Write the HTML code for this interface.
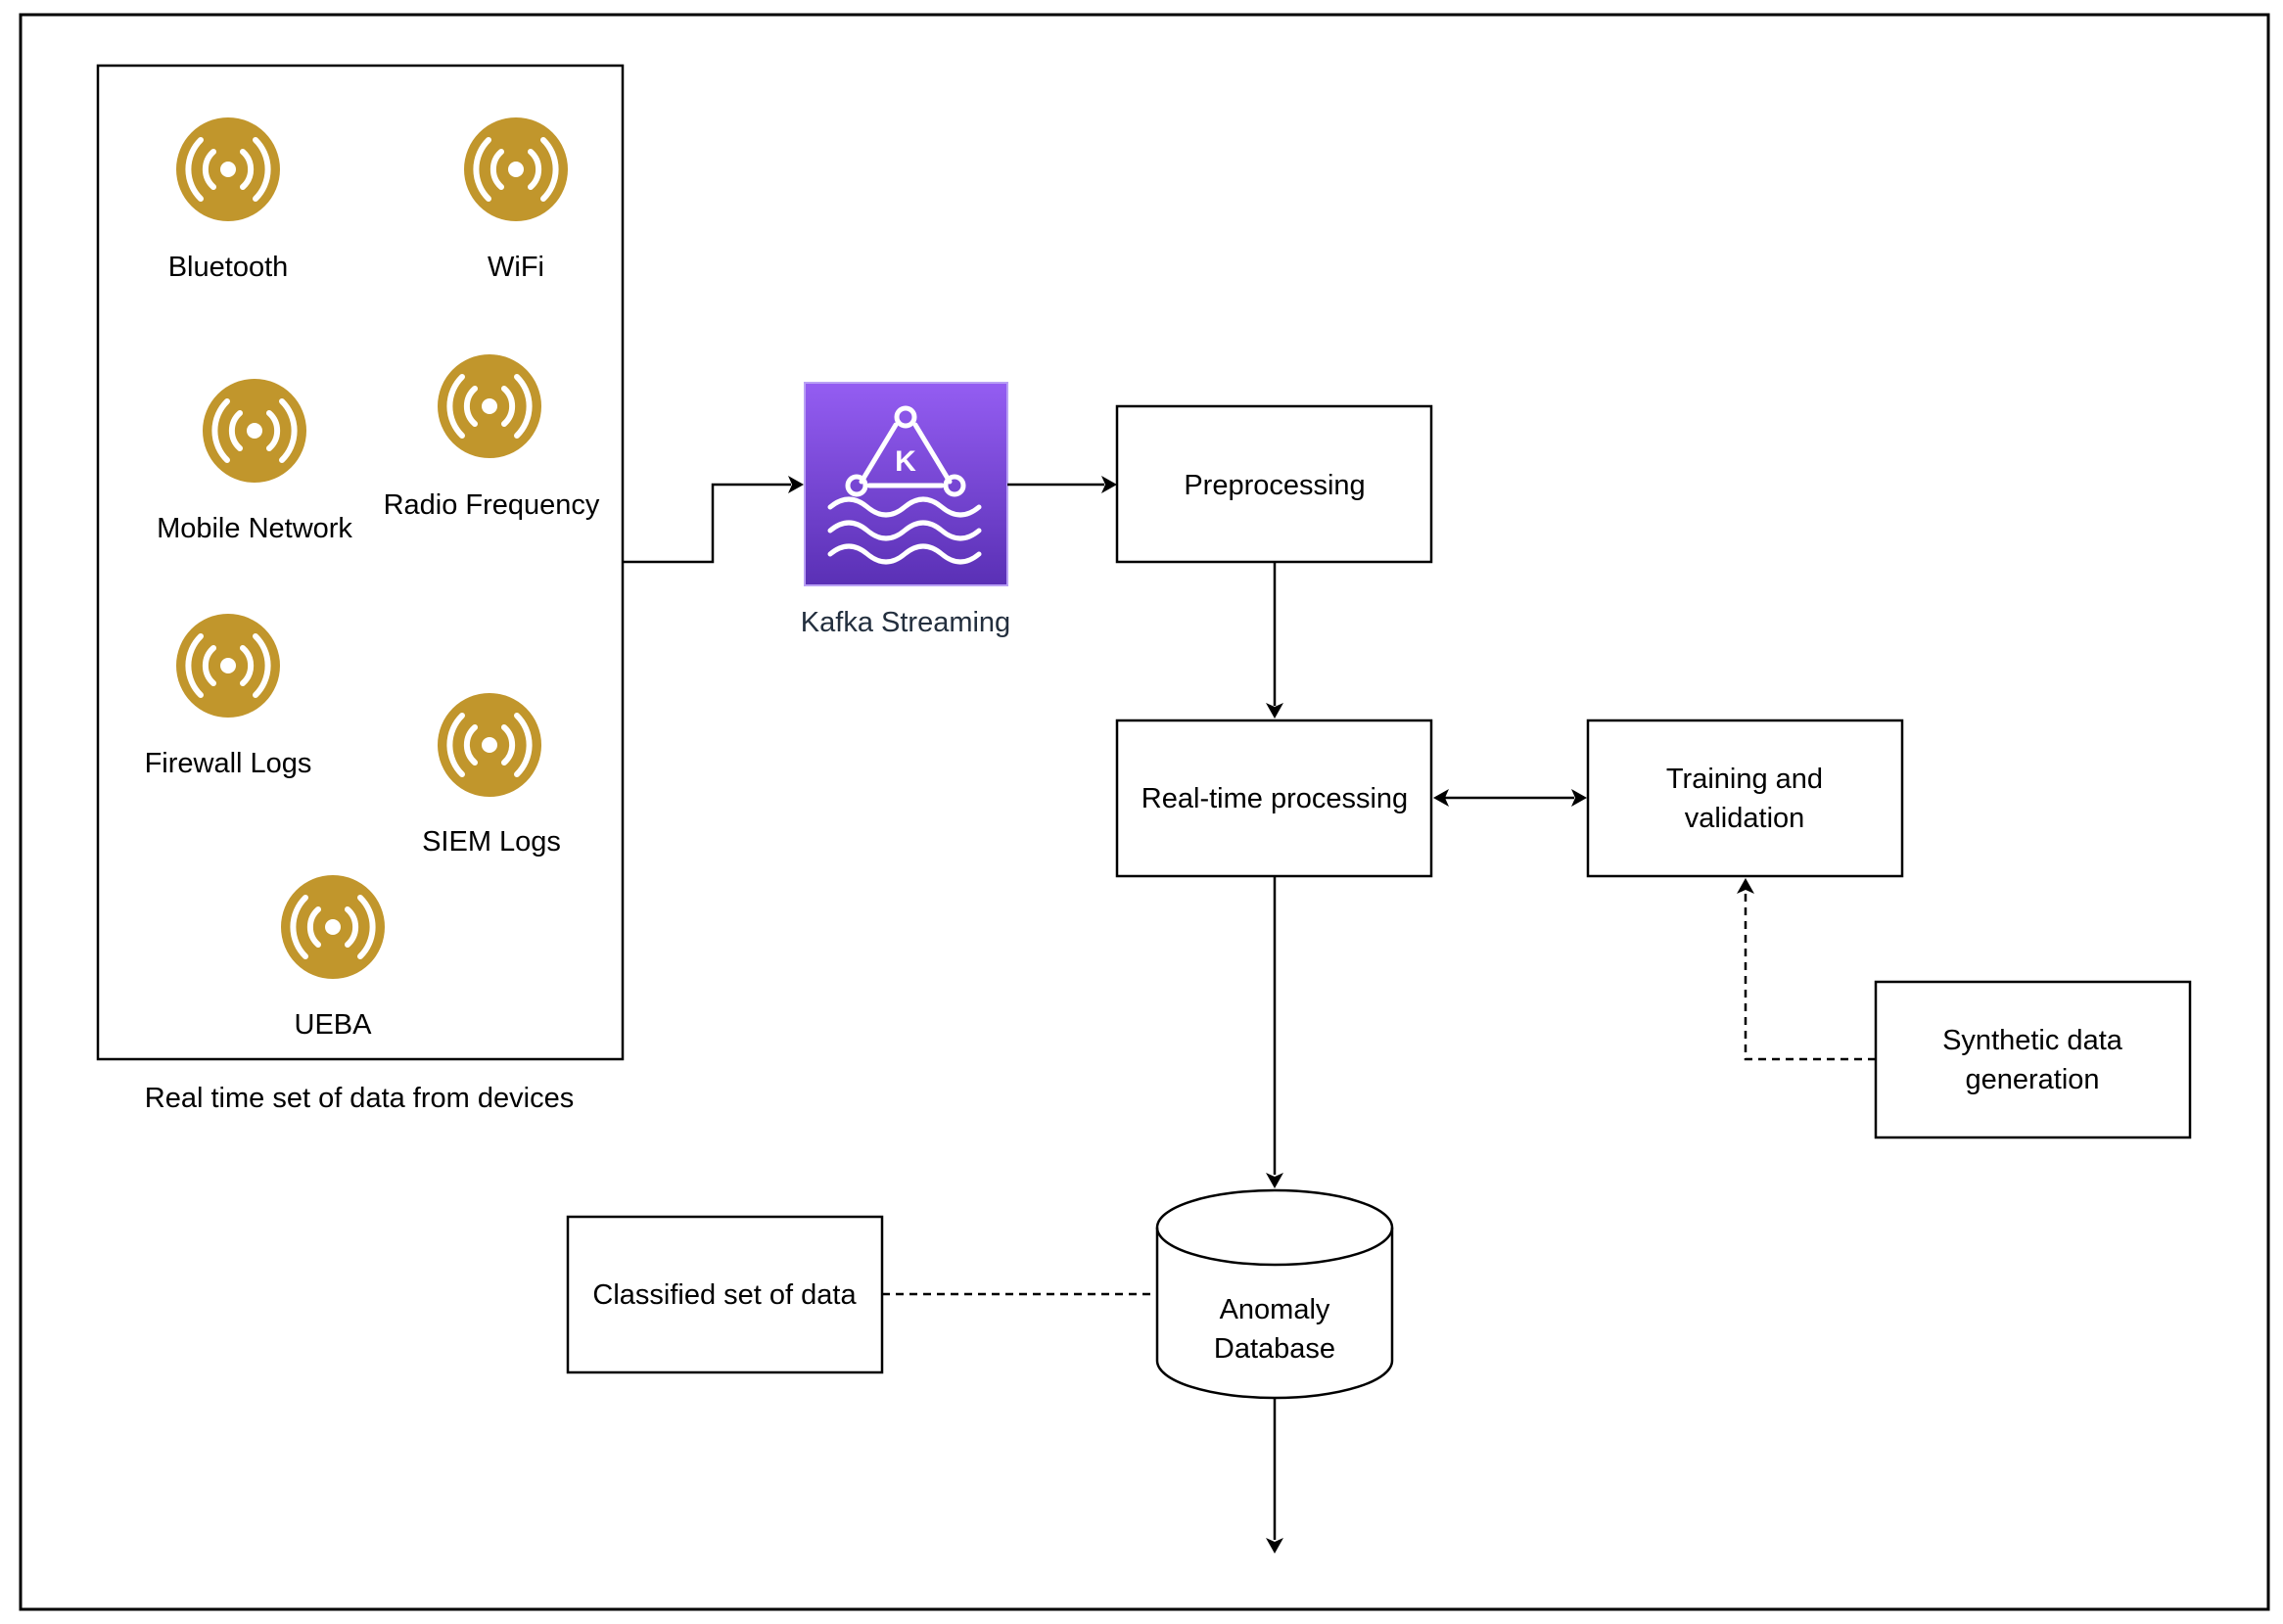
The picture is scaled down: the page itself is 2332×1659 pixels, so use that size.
<!DOCTYPE html>
<html><head><meta charset="utf-8"><style>
html,body{margin:0;padding:0;background:#fff;}
svg{display:block;}
text{font-family:"Liberation Sans",Arial,sans-serif;font-size:29px;fill:#000;text-anchor:middle;}
</style></head><body>
<svg width="2332" height="1659" viewBox="0 0 2332 1659" xmlns="http://www.w3.org/2000/svg">
<defs>
<g id="icon">
<circle cx="0" cy="0" r="53" fill="#c1962c"/>
<circle cx="0" cy="0" r="8" fill="#fff"/>
<path d="M-15,-18 A24,24 0 0 0 -15,18 M15,-18 A24,24 0 0 1 15,18" stroke="#fff" stroke-width="6" fill="none" stroke-linecap="round"/>
<path d="M-28,-30 A42,42 0 0 0 -28,30 M28,-30 A42,42 0 0 1 28,30" stroke="#fff" stroke-width="6" fill="none" stroke-linecap="round"/>
</g>
<linearGradient id="kg" x1="0" y1="0" x2="0" y2="1">
<stop offset="0" stop-color="#945df2"/><stop offset="1" stop-color="#5a30b5"/>
</linearGradient>
</defs>
<rect x="21" y="15" width="2296" height="1629" fill="none" stroke="#000" stroke-width="3"/>
<rect x="100" y="67" width="536" height="1015" fill="none" stroke="#000" stroke-width="2.5"/>

<use href="#icon" x="233" y="173"/><text x="233" y="282">Bluetooth</text>
<use href="#icon" x="527" y="173"/><text x="527" y="282">WiFi</text>
<use href="#icon" x="260" y="440"/><text x="260" y="549">Mobile Network</text>
<use href="#icon" x="500" y="415"/><text x="502" y="525">Radio Frequency</text>
<use href="#icon" x="233" y="680"/><text x="233" y="789">Firewall Logs</text>
<use href="#icon" x="500" y="761"/><text x="502" y="869">SIEM Logs</text>
<use href="#icon" x="340" y="947"/><text x="340" y="1056">UEBA</text>
<text x="367" y="1131">Real time set of data from devices</text>

<rect x="822" y="391" width="207" height="207" fill="url(#kg)" stroke="#b9a0f5" stroke-width="2"/>
<g stroke="#fff" stroke-width="5" fill="none" stroke-linecap="round">
<path d="M915,434 L880,492 M935,434 L970,492 M888,496 L962,496"/>
<circle cx="925" cy="426" r="9"/><circle cx="875" cy="496" r="9"/><circle cx="975" cy="496" r="9"/>
<path d="M848,518 q19,-16 38,0 t38,0 t38,0 t38,0"/>
<path d="M848,542 q19,-16 38,0 t38,0 t38,0 t38,0"/>
<path d="M848,566 q19,-16 38,0 t38,0 t38,0 t38,0"/>
</g>
<text x="925" y="481" style="font-size:30px;fill:#fff;font-weight:bold">K</text>
<text x="925" y="645" style="fill:#232f3e">Kafka Streaming</text>

<g stroke="#000" stroke-width="2.5" fill="none">
<path d="M636,574 H728 V495 H808"/>
<path d="M1029,495 H1128"/>
<path d="M1302,574 V721"/>
<path d="M1476,815 H1608"/>
<path d="M1302,895 V1200"/>
<path d="M1302,1429 V1573"/>
<path d="M1916,1082 H1783 V911" stroke-dasharray="8,6"/>
<path d="M901,1322 H1182" stroke-dasharray="8,6"/>
</g>
<g fill="#000">
<path d="M821,495 l-16,-9 l4,9 l-4,9 z"/>
<path d="M1141,495 l-16,-9 l4,9 l-4,9 z"/>
<path d="M1302,734 l-9,-16 l9,4 l9,-4 z"/>
<path d="M1464,815 l16,-9 l-4,9 l4,9 z"/>
<path d="M1621,815 l-16,-9 l4,9 l-4,9 z"/>
<path d="M1302,1214 l-9,-16 l9,4 l9,-4 z"/>
<path d="M1302,1587 l-9,-16 l9,4 l9,-4 z"/>
<path d="M1783,897 l-9,16 l9,-4 l9,4 z"/>
</g>

<g fill="#fff" stroke="#000" stroke-width="2.5">
<rect x="1141" y="415" width="321" height="159"/>
<rect x="1141" y="736" width="321" height="159"/>
<rect x="1622" y="736" width="321" height="159"/>
<rect x="1916" y="1003" width="321" height="159"/>
<rect x="580" y="1243" width="321" height="159"/>
<path d="M1182,1254 V1390 A120,38 0 0 0 1422,1390 V1254 A120,38 0 0 0 1182,1254 Z"/>
<path d="M1182,1254 A120,38 0 0 0 1422,1254" fill="none"/>
</g>
<text x="1302" y="505">Preprocessing</text>
<text x="1302" y="825">Real-time processing</text>
<text x="1782" y="805">Training and</text>
<text x="1782" y="845">validation</text>
<text x="2076" y="1072">Synthetic data</text>
<text x="2076" y="1112">generation</text>
<text x="740" y="1332">Classified set of data</text>
<text x="1302" y="1347">Anomaly</text>
<text x="1302" y="1387">Database</text>
</svg>
</body></html>
